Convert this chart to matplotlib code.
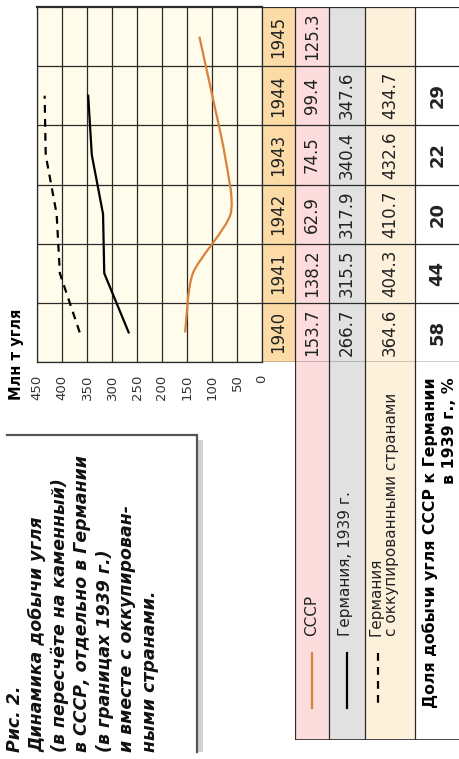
import matplotlib
matplotlib.use("Agg")
import matplotlib.pyplot as plt
from matplotlib.path import Path
from matplotlib.patches import PathPatch, Rectangle

# --- данные (млн т угля в пересчёте на каменный) ---
years = [1940, 1941, 1942, 1943, 1944, 1945]
ussr = [153.7, 138.2, 62.9, 74.5, 99.4, 125.3]
germany = [266.7, 315.5, 317.9, 340.4, 347.6]          # 1940–1944
germany_occ = [364.6, 404.3, 410.7, 432.6, 434.7]      # 1940–1944
share = [58, 44, 20, 22, 29]                            # % СССР к Германии 1939 г.
value_ticks = [0, 50, 100, 150, 200, 250, 300, 350, 400, 450]

caption = ["Рис. 2.",
           "Динамика добычи угля",
           "(в пересчёте на каменный)",
           "в СССР, отдельно в Германии",
           "(в границах 1939 г.)",
           "и вместе с оккупирован-",
           "ными странами."]

ORANGE = "#d9823b"
LINE = "#2a2a2a"
W, H = 460, 759


def fr(x0, y0, x1, y1):
    """пиксельный прямоугольник (начало сверху слева) -> доли фигуры"""
    return [x0 / W, 1 - y1 / H, (x1 - x0) / W, (y1 - y0) / H]


def smooth_path(xs, ys, k=8):
    """Catmull-Rom -> кубические Безье через точки ряда (k — мягкость изгиба)"""
    pts = list(zip(xs, ys))
    verts, codes = [pts[0]], [Path.MOVETO]
    for i in range(len(pts) - 1):
        p0 = pts[max(i - 1, 0)]
        p1, p2 = pts[i], pts[i + 1]
        p3 = pts[min(i + 2, len(pts) - 1)]
        c1 = (p1[0] + (p2[0] - p0[0]) / k, p1[1] + (p2[1] - p0[1]) / k)
        c2 = (p2[0] - (p3[0] - p1[0]) / k, p2[1] - (p3[1] - p1[1]) / k)
        verts += [c1, c2, p2]
        codes += [Path.CURVE4] * 3
    return Path(verts, codes)


fig = plt.figure(figsize=(W / 100, H / 100), dpi=100)

# --- график (повёрнут: значения справа налево, годы снизу вверх) ---
ax = fig.add_axes(fr(37, 7, 262, 362))
ax.set_facecolor("#fffcec")
ax.set_xlim(450, 0)
ax.set_ylim(years[0] - 0.5, years[-1] + 0.5)
for v in value_ticks:
    ax.axvline(v, color=LINE, lw=0.9, zorder=1)
for y in years:
    ax.axhline(y - 0.5, color=LINE, lw=0.9, zorder=1)
ax.add_patch(PathPatch(smooth_path(ussr, years), fill=False, ec=ORANGE, lw=1.6, zorder=3))
ax.plot(germany, years[:5], color="black", lw=1.6, zorder=3)
ax.plot(germany_occ, years[:5], color="black", lw=1.6, dashes=(3.5, 2.8), zorder=3)
ax.set_xticks(value_ticks)
ax.set_xticklabels([str(v) for v in value_ticks])
ax.tick_params(axis="x", length=0, pad=9, labelrotation=90, labelsize=9.5, labelcolor="#333")
ax.set_yticks([])
for s in ax.spines.values():
    s.set_color(LINE)
    s.set_linewidth(0.9)
ax.spines["top"].set_linewidth(1.6)

# --- таблица справа от графика, строки = годы ---
col_edges = [0, 33, 67, 103, 153, 198]
col_colors = ["#fddba7", "#fcdcdc", "#e1e1e1", "#fef1dc", "white"]
tab = fig.add_axes(fr(262, 7, 460, 362), sharey=ax)
tab.set_xlim(0, 198)
tab.axis("off")
for c in range(5):
    tab.add_patch(Rectangle((col_edges[c], years[0] - 0.5), col_edges[c + 1] - col_edges[c],
                            len(years), fc=col_colors[c], ec="none", zorder=0))
for e in col_edges[:-1]:
    tab.axvline(e, color=LINE, lw=0.9)
for y in years:
    tab.axhline(y - 0.5, color=LINE, lw=0.9)
tab.axhline(years[-1] + 0.5, color=LINE, lw=1.6)
tab.axhline(years[0] - 0.5, color=LINE, lw=0.9)


def cell(col, y, s, **kw):
    tab.text((col_edges[col] + col_edges[col + 1]) / 2, y, s, rotation=90,
             ha="center", va="center", color="#222", **kw)


for i, y in enumerate(years):
    cell(0, y, str(y), fontsize=12)
    cell(1, y, f"{ussr[i]:.1f}", fontsize=12)
    if i < len(germany):
        cell(2, y, f"{germany[i]:.1f}", fontsize=12)
        cell(3, y, f"{germany_occ[i]:.1f}", fontsize=12)
        cell(4, y, str(share[i]), fontsize=13, fontweight="bold")

# --- легенда под таблицей ---
leg = fig.add_axes(fr(295, 362, 460, 740))
leg.set_xlim(33, 198)
leg.set_ylim(378, 0)
leg.axis("off")
for c in range(1, 5):
    leg.add_patch(Rectangle((col_edges[c], 0), col_edges[c + 1] - col_edges[c], 378,
                            fc=col_colors[c], ec="none", zorder=0))
for e in col_edges[1:-1]:
    leg.axvline(e, color=LINE, lw=0.9)
leg.axhline(378, color=LINE, lw=1.2)
leg.plot([50, 50], [291, 346], color=ORANGE, lw=1.6)
leg.plot([85, 85], [291, 346], color="black", lw=1.6)
leg.plot([116, 116], [291, 346], color="black", lw=1.6, dashes=(3.5, 2.8))
lt = dict(rotation=90, rotation_mode="anchor", va="center", color="#222", fontsize=11)
leg.text(50, 274, "СССР", ha="left", **lt)
leg.text(84, 274, "Германия, 1939 г.", ha="left", **lt)
leg.text(114, 274, "Германия", ha="left", **lt)
leg.text(130, 274, "с оккупированными странами", ha="left", **lt)
lt.update(fontsize=11.3, fontweight="bold", color="black")
leg.text(168, 15, "Доля добычи угля СССР к Германии", ha="right", **lt)
leg.text(188, 15, "в 1939 г., %", ha="right", **lt)

# --- подписи и рамка подписи рисунка ---
over = fig.add_axes([0, 0, 1, 1], zorder=-1)
over.set_xlim(0, W)
over.set_ylim(H, 0)
over.axis("off")
over.text(17, 400, "Млн т угля", rotation=90, rotation_mode="anchor", ha="left",
          va="center", fontsize=10.5, fontweight="bold")
over.add_patch(Rectangle((198, 440), 5, 312, fc="#d2d2d2", ec="none"))
over.plot([7, 197, 197], [435, 435, 752], color="#555", lw=1.6, solid_joinstyle="miter")
for k, line in enumerate(caption):
    over.text(15 + 22.5 * k, 752, line, rotation=90, rotation_mode="anchor", ha="left",
              va="center", fontsize=12.5, fontweight="bold", style="italic", color="#111")

fig.savefig("out.png", dpi=100)
